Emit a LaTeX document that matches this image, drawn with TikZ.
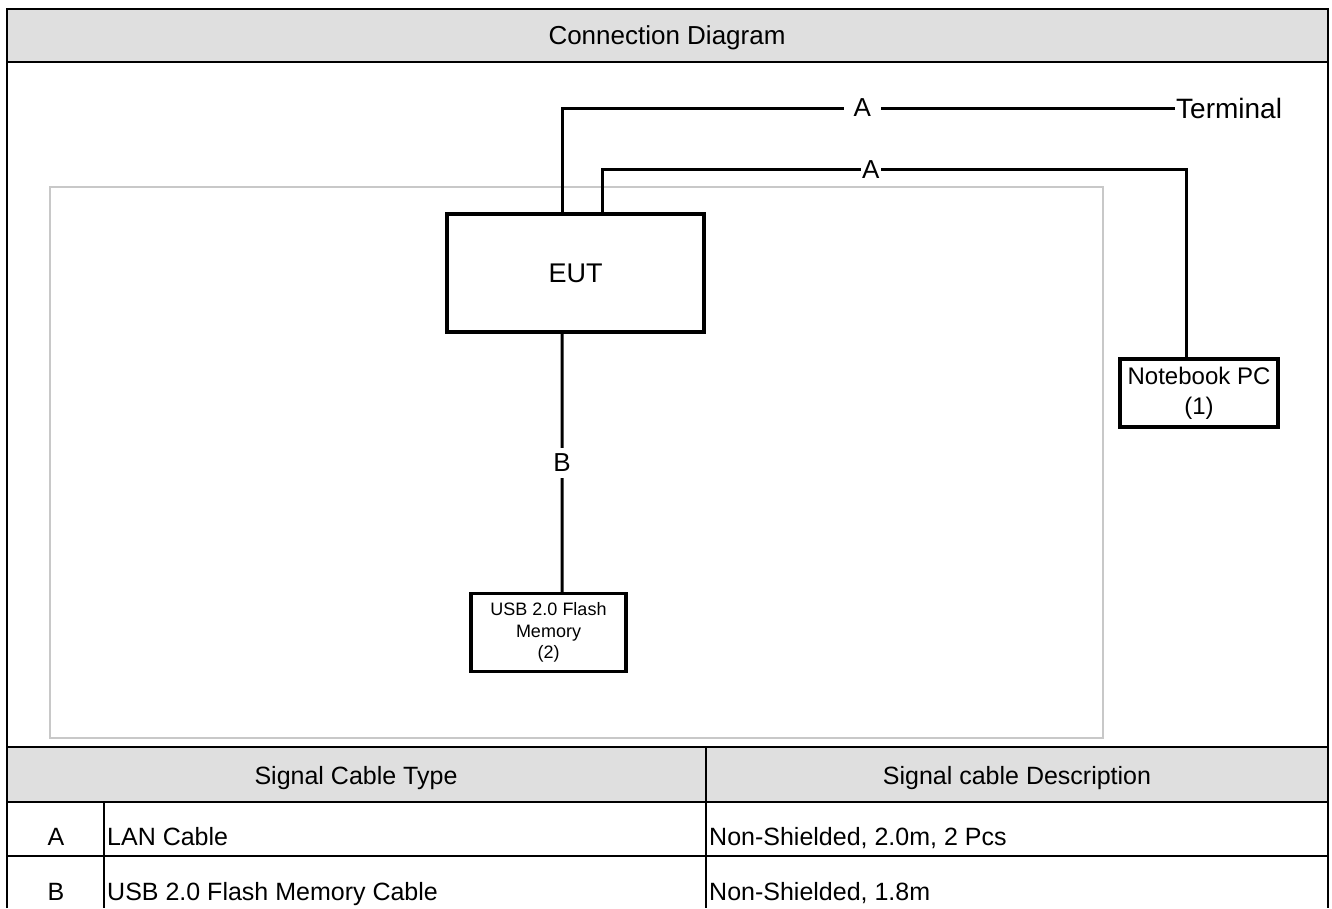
\documentclass[tikz,border=0pt]{standalone}
\usepackage{fontspec}
\setmainfont{Liberation Sans}
\usetikzlibrary{positioning}
\definecolor{headgray}{HTML}{DFDFDF}
\definecolor{benchgray}{HTML}{C8C8C8}
\tikzset{
    tableline/.style={line width=2.5bp},
    headfill/.style={fill=headgray},
    tabletext/.style={font=\fontsize{25bp}{29bp}\selectfont,inner sep=0pt},
    devbox/.style={rectangle,draw,line width=3.5bp,align=center,inner sep=2bp},
    cable/.style={line width=3bp},
    cablelabel/.style={fill=white,font=\fontsize{26bp}{30bp}\selectfont,inner sep=1bp},
    benchframe/.style={draw=benchgray,line width=1.5bp}
}

\begin{document}
\begin{tikzpicture}[x=1bp,y=-1bp]
    \useasboundingbox (0,0) rectangle (1332,908);
    % table frame
    \fill[headfill] (7,9) rectangle (1328,62);
    \fill[headfill] (7,747) rectangle (1328,802);
    \draw[tableline] (7,908) -- (7,9) -- (1328,9) -- (1328,908);
    \draw[tableline] (7,62) -- (1328,62);
    \draw[tableline] (7,747) -- (1328,747);
    \draw[tableline] (7,802) -- (1328,802);
    \draw[tableline] (7,856) -- (1328,856);
    \draw[tableline] (706,747) -- (706,908);
    \draw[tableline] (104,802) -- (104,908);
    \node[tabletext,anchor=base,font=\fontsize{26bp}{30bp}\selectfont] (title) at (667,44) {Connection Diagram};
    \node[tabletext,anchor=base] (typehead) at (356,784) {Signal Cable Type};
    \node[tabletext,anchor=base] (deschead) at (1017,784) {Signal cable Description};
    \node[tabletext,anchor=base] (rowa) at (56,845) {A};
    \node[tabletext,anchor=base west] (rowatype) at (107,845) {LAN Cable};
    \node[tabletext,anchor=base west] (rowadesc) at (709,845) {Non-Shielded, 2.0m, 2 Pcs};
    \node[tabletext,anchor=base] (rowb) at (56,900) {B};
    \node[tabletext,anchor=base west] (rowbtype) at (107,900) {USB 2.0 Flash Memory Cable};
    \node[tabletext,anchor=base west] (rowbdesc) at (709,900) {Non-Shielded, 1.8m};
    % test setup
    \draw[benchframe] (50,187) rectangle (1103,738);
    \node[devbox,minimum width=257bp,minimum height=118bp,font=\fontsize{27bp}{30bp}\selectfont] (eut) at (575.5,273) {EUT};
    \node[devbox,minimum width=155bp,minimum height=78bp,font=\fontsize{18bp}{21.5bp}\selectfont,below=258bp of eut,xshift=-27bp] (usb) {USB 2.0 Flash\\Memory\\(2)};
    \node[devbox,minimum width=158bp,minimum height=68bp,font=\fontsize{24bp}{30bp}\selectfont] (nb) at (1199,393) {Notebook PC\\(1)};
    \node[cablelabel,anchor=west,font=\fontsize{28bp}{32bp}\selectfont] (term) at (1175,108) {Terminal};
    \draw[cable] ([xshift=-13.5bp]eut.north) |- (term.west) node[cablelabel,inner xsep=10bp,pos=0.745]{A};
    \draw[cable] ([xshift=27bp]eut.north) -- ++(0,-43) -| ([xshift=-13bp]nb.north) node[cablelabel,pos=0.23]{A};
    \draw[cable] ([xshift=-13.5bp]eut.south) -- node[cablelabel,inner ysep=6bp]{B} ([xshift=13.5bp]usb.north);
\end{tikzpicture}
\end{document}
